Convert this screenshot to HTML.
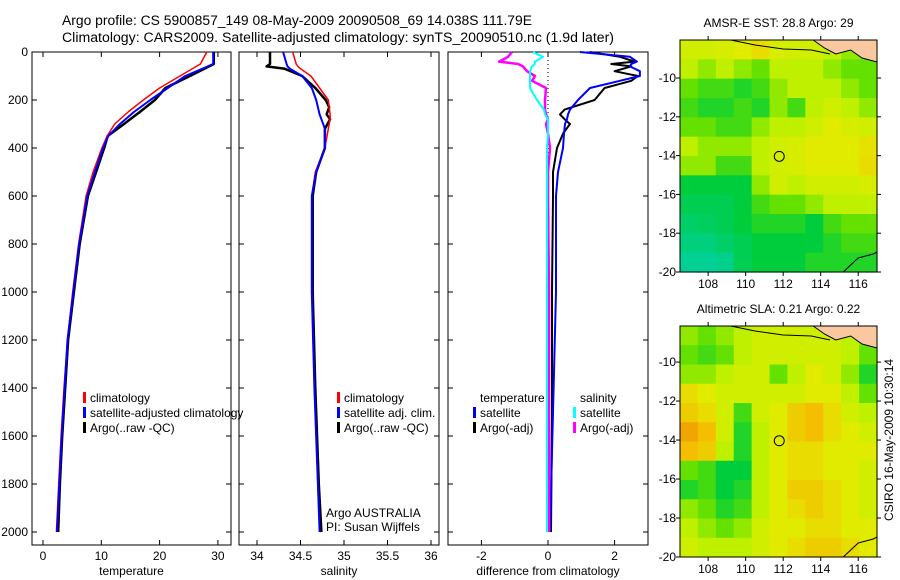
<!DOCTYPE html>
<html><head><meta charset="utf-8"><style>
html,body{margin:0;padding:0;background:#fff;}
svg{display:block;font-family:"Liberation Sans",sans-serif;}
</style></head><body>
<svg id="c" width="900" height="580" viewBox="0 0 900 580" xmlns="http://www.w3.org/2000/svg">
<text x="62" y="25" font-size="13.5" textLength="470" lengthAdjust="spacingAndGlyphs">Argo profile: CS 5900857_149 08-May-2009 20090508_69 14.038S 111.79E</text>
<text x="62" y="42" font-size="13.5" textLength="552" lengthAdjust="spacingAndGlyphs">Climatology: CARS2009. Satellite-adjusted climatology: synTS_20090510.nc (1.9d later)</text>
<g id="g"></g>
</svg>
<script>
// ---- data ----
const depthT = [0,50,100,150,200,250,300,350,400,500,600,800,1000,1200,1400,1600,1800,2000];
const tempArgo = [29.3,29.3,25.2,21.0,19.2,16.6,13.9,11.1,10.5,9.1,7.7,6.3,5.3,4.3,3.8,3.3,2.9,2.6];
const tempClim = [28.1,27.0,23.5,20.0,17.2,14.6,12.3,11.0,10.1,8.6,7.4,6.1,5.1,4.2,3.6,3.1,2.7,2.3];
const tempSat  = [29.2,29.2,24.4,21.4,18.4,15.6,13.2,11.2,10.3,8.9,7.6,6.2,5.2,4.2,3.7,3.2,2.8,2.4];
const depthS = [0,50,60,70,100,150,200,230,260,280,320,400,500,600,800,1000,1400,1800,2000];
const salArgo = [34.15,34.15,34.11,34.32,34.52,34.67,34.79,34.83,34.80,34.84,34.78,34.78,34.68,34.64,34.64,34.64,34.67,34.71,34.74];
const salClim = [34.41,34.45,34.47,34.50,34.62,34.72,34.82,34.83,34.84,34.84,34.82,34.78,34.67,34.63,34.63,34.63,34.66,34.70,34.72];
const salSat  = [34.30,34.34,34.35,34.38,34.52,34.63,34.68,34.70,34.72,34.74,34.78,34.78,34.68,34.63,34.63,34.63,34.66,34.70,34.72];
const depthD = [0,20,40,50,60,80,100,120,150,200,240,260,280,300,340,400,500,600,1000,1500,2000];
const dTempArgo = [1.26,2.16,2.6,1.9,2.5,2.0,2.7,2.5,1.7,1.4,0.5,0.36,0.5,0.66,0.45,0.27,0.15,0.15,0.12,0.12,0.09];
const dTempSat  = [0.96,2.46,2.67,2.5,2.46,2.76,2.76,2.16,1.26,0.9,0.66,0.6,0.57,0.51,0.48,0.45,0.3,0.24,0.24,0.15,0.06];
const dSalArgo  = [-1.08,-1.2,-1.47,-0.9,-0.75,-0.63,-0.39,-0.48,-0.06,-0.09,-0.09,-0.06,0.0,-0.06,0.0,0.06,0.0,0.0,0.03,0.03,0.03];
const dSalSat   = [-0.45,-0.15,-0.39,-0.4,-0.48,-0.54,-0.54,-0.54,-0.54,-0.33,-0.12,-0.09,0.0,0.0,0.0,-0.03,-0.03,-0.03,-0.03,-0.03,-0.03];
const depthTicks = [0,200,400,600,800,1000,1200,1400,1600,1800,2000];
const tempTicks = [0,10,20,30];
const salTicks = ["34","34.5","35","35.5","36"];
const diffTicks = [-2,0,2];
const latTicks = [-10,-12,-14,-16,-18,-20];
const lonTicks = [108,110,112,114,116];
const sstGrid = [
[.6,.6,.62,.65,.7,.62,.6,.6,.55,.5,.5],
[.55,.5,.55,.5,.45,.55,.55,.55,.5,.45,.45],
[.45,.4,.4,.35,.4,.5,.55,.55,.55,.5,.45],
[.4,.35,.35,.4,.35,.5,.4,.55,.6,.55,.5],
[.45,.45,.4,.4,.5,.55,.55,.6,.65,.62,.6],
[.55,.5,.5,.5,.55,.6,.62,.65,.65,.65,.68],
[.5,.5,.4,.4,.55,.6,.62,.65,.65,.65,.7],
[.3,.3,.3,.3,.5,.6,.55,.6,.6,.6,.62],
[.25,.25,.25,.3,.4,.45,.45,.5,.55,.55,.55],
[.2,.22,.25,.3,.35,.35,.35,.3,.4,.45,.45],
[.15,.15,.2,.25,.3,.3,.3,.3,.35,.4,.4],
[.1,.1,.12,.25,.3,.3,.3,.35,.35,.35,.35]];
const slaGrid = [
[.5,.45,.5,.55,.6,.6,.6,.6,.6,.55,.5],
[.45,.4,.45,.55,.6,.6,.6,.6,.6,.55,.45],
[.5,.5,.55,.6,.6,.45,.55,.65,.6,.5,.35],
[.7,.65,.6,.6,.6,.6,.6,.65,.65,.55,.45],
[.75,.7,.6,.4,.6,.65,.75,.8,.7,.6,.55],
[.85,.8,.6,.35,.55,.65,.75,.8,.7,.65,.6],
[.8,.75,.55,.35,.55,.65,.7,.7,.65,.65,.65],
[.45,.4,.3,.3,.55,.65,.7,.7,.65,.65,.6],
[.35,.4,.3,.35,.55,.65,.75,.75,.7,.65,.6],
[.5,.45,.35,.4,.55,.65,.7,.75,.7,.65,.6],
[.55,.5,.45,.5,.6,.65,.65,.7,.7,.65,.65],
[.6,.55,.55,.55,.6,.65,.7,.75,.75,.7,.65]];
const argoLon = 111.79, argoLat = -14.038;

const NS="http://www.w3.org/2000/svg";
const G=document.getElementById('g');
function mk(tag,attrs,parent){const e=document.createElementNS(NS,tag);for(const k in attrs)e.setAttribute(k,attrs[k]);(parent||G).appendChild(e);return e;}
function txt(s,x,y,attrs,parent){const e=mk('text',Object.assign({x:x,y:y,'font-size':12},attrs||{}),parent);e.textContent=s;return e;}

const yD = d => 52 + d*0.24;
const panels = [
 {name:'temperature',x0:32,x1:231,sx:v=>43+5.83*v,ticks:tempTicks.map(v=>[v,String(v)]),label:'temperature'},
 {name:'salinity',x0:239,x1:439,sx:v=>257+87*(v-34),ticks:salTicks.map(s=>[parseFloat(s),s]),label:'salinity'},
 {name:'difference',x0:448,x1:648,sx:v=>548+33.3*v,ticks:diffTicks.map(v=>[v,String(v)]),label:'difference from climatology'}
];
const yTop=52,yBot=545;
panels.forEach((p,i)=>{
  const g=mk('g',{});
  
  
  const r=mk('rect',{x:p.x0,y:yTop,width:p.x1-p.x0,height:yBot-yTop,fill:'none',stroke:'#000','stroke-width':1},g);
  
  p.ticks.forEach(t=>{const x=p.sx(t[0]);
    mk('line',{x1:x,x2:x,y1:yTop,y2:yTop+5,stroke:'#000'},g);
    mk('line',{x1:x,x2:x,y1:yBot,y2:yBot-5,stroke:'#000'},g);
    const l=txt(t[1],x,560,{'text-anchor':'middle'},g);
    
  });
  depthTicks.forEach(d=>{const y=yD(d);
    mk('line',{x1:p.x0,x2:p.x0+5,y1:y,y2:y,stroke:'#000'},g);
    mk('line',{x1:p.x1,x2:p.x1-5,y1:y,y2:y,stroke:'#000'},g);
    if(i===0){const l=txt(String(d),28,y+4,{'text-anchor':'end'},g);
      }
  });
  const xl=txt(p.label,(p.x0+p.x1)/2,575,{'text-anchor':'middle'},g);
  
  p.g=g;
});
function line(p,depths,vals,color,w,name){
  const pts=depths.map((d,k)=>p.sx(vals[k]).toFixed(1)+','+yD(d).toFixed(1)).join(' ');
  const e=mk('polyline',{points:pts,fill:'none',stroke:color,'stroke-width':w,'stroke-linejoin':'round'},p.g);
  
}
const P0=panels[0],P1=panels[1],P2=panels[2];
line(P0,depthT,tempArgo,'#000',2.5,'temp-argo-line');
line(P0,depthT,tempClim,'#f00',1.5,'temp-climatology-line');
line(P0,depthT,tempSat,'#00f',2,'temp-satellite-line');
line(P1,depthS,salArgo,'#000',2.5,'sal-argo-line');
line(P1,depthS,salClim,'#f00',1.5,'sal-climatology-line');
line(P1,depthS,salSat,'#00f',2,'sal-satellite-line');
const zl=mk('line',{x1:P2.sx(0),x2:P2.sx(0),y1:yTop,y2:yD(450),stroke:'#000','stroke-dasharray':'1,3'},P2.g);

line(P2,depthD,dTempArgo,'#000',2,'dtemp-argo-line');
line(P2,depthD,dTempSat,'#00f',2,'dtemp-satellite-line');
line(P2,depthD,dSalArgo,'#f0f',2.5,'dsal-argo-line');
line(P2,depthD,dSalSat,'#0ff',2,'dsal-satellite-line');

function legend(items,mx,y0,name){
  items.forEach((it,k)=>{const y=y0+k*15;
    if(it[1]){const m=mk('rect',{x:mx,y:y-10,width:3,height:11,fill:it[1]});
      }
    const t=txt(it[0],mx+7,y,{});
    
  });
}
legend([['climatology','#f00'],['satellite-adjusted climatology','#00f'],['Argo(..raw -QC)','#000']],83,402,'temp-legend');
legend([['climatology','#f00'],['satellite adj. clim.','#00f'],['Argo(..raw -QC)','#000']],337,402,'sal-legend');
legend([['temperature',null],['satellite','#00f'],['Argo(-adj)','#000']],473,402,'dtemp-legend');
legend([['salinity',null],['satellite','#0ff'],['Argo(-adj)','#f0f']],573,402,'dsal-legend');
let t1=txt('Argo AUSTRALIA',326,517,{});
let t2=txt('PI: Susan Wijffels',326,531,{});

// colormap
const stops=[[0,[0,210,190]],[0.3,[0,205,60]],[0.45,[100,225,0]],[0.55,[190,240,0]],[0.65,[225,235,0]],[0.8,[245,190,0]],[0.9,[235,140,0]],[1,[200,40,0]]];
function cmap(v){for(let k=1;k<stops.length;k++){if(v<=stops[k][0]){const a=stops[k-1],b=stops[k],f=(v-a[0])/(b[0]-a[0]);
  return 'rgb('+a[1].map((c,j)=>Math.round(c+(b[1][j]-c)*f)).join(',')+')';}}return 'rgb(200,40,0)';}
function drawMap(grid,y0,y1,latTop,title,name){
  const x0=680,x1=877,lon0=106.5,lon1=117.0;
  const sx=lo=>x0+(lo-lon0)/(lon1-lon0)*(x1-x0);
  const sy=la=>y0+(latTop-la)/(latTop+20)*(y1-y0);
  const g=mk('g',{});
  const rows=grid.length,cols=grid[0].length,cw=(x1-x0)/cols,ch=(y1-y0)/rows;
  grid.forEach((row,r)=>row.forEach((v,c)=>{
    const cell=mk('rect',{x:(x0+c*cw).toFixed(2),y:(y0+r*ch).toFixed(2),width:(cw+0.6).toFixed(2),height:(ch+0.6).toFixed(2),fill:cmap(v)},g);
    
  }));
  const land=mk('path',{d:`M${sx(113.6)},${y0} L${sx(114.2)},${y0+8} L${sx(114.8)},${y0+14} L${sx(115.6)},${y0+10} L${sx(116.2)},${y0+18} L${sx(117)},${y0+22} L${x1},${y0} Z`,fill:'#fac8a0',stroke:'#000','stroke-width':1},g);
  
  const coast=mk('polyline',{points:`${sx(109.2)},${y0} ${sx(110.5)},${y0+5} ${sx(112)},${y0+9} ${sx(113.5)},${y0+10} ${sx(114.5)},${y0+14}`,fill:'none',stroke:'#000','stroke-width':1},g);
  
  const coast2=mk('polyline',{points:`${sx(115.2)},${y1} ${sx(116)},${y1-14} ${sx(116.8)},${y1-18} ${x1},${y1-20}`,fill:'none',stroke:'#000','stroke-width':1},g);
  
  mk('rect',{x:x0,y:y0,width:x1-x0,height:y1-y0,fill:'none',stroke:'#000'},g);
  const circ=mk('circle',{cx:sx(argoLon),cy:sy(argoLat),r:5,fill:'none',stroke:'#000'},g);
  
  latTicks.forEach(la=>{const y=sy(la);
    mk('line',{x1:x0,x2:x0-4,y1:y,y2:y,stroke:'#000'},g);mk('line',{x1:x1,x2:x1+4,y1:y,y2:y,stroke:'#000'},g);
    const l=txt(String(la),676,y+4,{'text-anchor':'end'},g);});
  lonTicks.forEach(lo=>{const x=sx(lo);
    mk('line',{x1:x,x2:x,y1:y1,y2:y1+4,stroke:'#000'},g);mk('line',{x1:x,x2:x,y1:y0,y2:y0-4,stroke:'#000'},g);
    const l=txt(String(lo),x,y1+16,{'text-anchor':'middle'},g);});
  const tt=txt(title,(x0+x1)/2,y0-13,{'text-anchor':'middle'},g);
}
drawMap(sstGrid,40,272,-8.04,'AMSR-E SST: 28.8 Argo: 29','sst-map');
drawMap(slaGrid,326,557,-8.15,'Altimetric SLA: 0.21 Argo: 0.22','sla-map');
const cs=txt('CSIRO 16-May-2009 10:30:14',0,0,{'text-anchor':'middle',transform:'translate(893,440) rotate(-90)'});

</script>
</body></html>
